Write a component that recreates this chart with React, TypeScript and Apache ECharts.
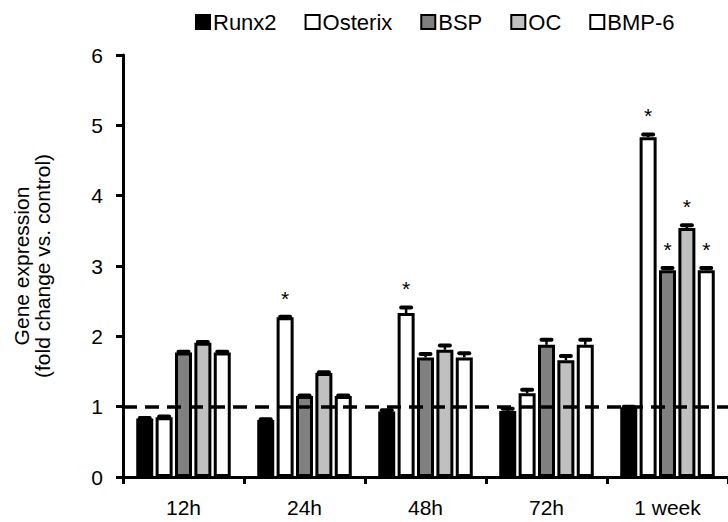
import React, { useEffect, useRef } from "react";
import * as echarts from "echarts";

const categories = ["12h", "24h", "48h", "72h", "1 week"];
const seriesNames = ["Runx2", "Osterix", "BSP", "OC", "BMP-6"];
const seriesColors = ["#000000", "#ffffff", "#808080", "#c0c0c0", "#ffffff"];

const runx2 = [0.83, 0.81, 0.93, 0.94, 0.99];
const osterix = [0.85, 2.27, 2.33, 1.19, 4.83];
const bsp = [1.77, 1.15, 1.70, 1.88, 2.94];
const oc = [1.91, 1.48, 1.81, 1.66, 3.54];
const bmp6 = [1.77, 1.15, 1.70, 1.88, 2.94];

const runx2Err = [0.01, 0.01, 0.02, 0.03, 0.01];
const osterixErr = [0.01, 0.01, 0.08, 0.05, 0.04];
const bspErr = [0.01, 0.01, 0.05, 0.07, 0.03];
const ocErr = [0.01, 0.01, 0.06, 0.06, 0.04];
const bmp6Err = [0.01, 0.01, 0.06, 0.07, 0.03];

const runx2Sig = [0, 0, 0, 0, 0];
const osterixSig = [0, 1, 1, 0, 1];
const bspSig = [0, 0, 0, 0, 1];
const ocSig = [0, 0, 0, 0, 1];
const bmp6Sig = [0, 0, 0, 0, 1];

const yTicks = [0, 1, 2, 3, 4, 5, 6];
const referenceLevel = 1;

const allValues = [runx2, osterix, bsp, oc, bmp6];
const allErrors = [runx2Err, osterixErr, bspErr, ocErr, bmp6Err];
const allSig = [runx2Sig, osterixSig, bspSig, ocSig, bmp6Sig];

const FONT = "'Liberation Sans', Arial, sans-serif";
const BAR_W = 17;
const BAR_GAP = 0.14;

export default function App() {
  const ref = useRef<HTMLDivElement>(null);

  useEffect(() => {
    if (!ref.current) return;
    const chart = echarts.init(ref.current, null, { renderer: "svg" });

    const barSeries: any[] = seriesNames.map((name, i) => ({
      name,
      type: "bar",
      data: allValues[i],
      barWidth: BAR_W,
      barGap: BAR_GAP * 100 + "%",
      barCategoryGap: "20%",
      itemStyle: {
        color: seriesColors[i],
        borderColor: "#000",
        borderWidth: 3,
      },
      z: 2,
      ...(i === 0
        ? {
            markLine: {
              silent: true,
              symbol: "none",
              z: 10,
              label: { show: false },
              lineStyle: { color: "#000", width: 3.5, type: [14, 8] },
              data: [{ yAxis: referenceLevel }],
            },
          }
        : {}),
    }));

    const step = BAR_W * (1 + BAR_GAP);
    const errSeries: any[] = seriesNames.map((name, i) => ({
      name: "err-" + name,
      type: "custom",
      z: 5,
      data: categories.map((_, c) => [c, allValues[i][c], allErrors[i][c], allSig[i][c]]),
      encode: { x: 0, y: 1 },
      renderItem: (params: any, api: any) => {
        const c = api.value(0);
        const v = api.value(1);
        const e = api.value(2);
        const s = api.value(3);
        const base = api.coord([c, v]);
        const top = api.coord([c, v + e]);
        const x = base[0] + (i - 2) * step;
        const children: any[] = [
          {
            type: "line",
            shape: { x1: x, y1: base[1], x2: x, y2: top[1] },
            style: { stroke: "#000", lineWidth: 2.5 },
          },
          {
            type: "line",
            shape: { x1: x - 5, y1: top[1], x2: x + 5, y2: top[1] },
            style: { stroke: "#000", lineWidth: 4, lineCap: "round" },
          },
        ];
        if (s) {
          children.push({
            type: "text",
            style: {
              text: "*",
              x: x,
              y: top[1] - 8,
              align: "center",
              verticalAlign: "bottom",
              font: "21px " + FONT,
              fill: "#000",
            },
          });
        }
        return { type: "group", children };
      },
    }));

    chart.setOption({
      animation: false,
      backgroundColor: "#fff",
      textStyle: { fontFamily: FONT, color: "#000" },
      legend: {
        data: seriesNames,
        left: 190,
        top: 6,
        itemWidth: 14,
        itemHeight: 14,
        itemGap: 28,
        icon: "rect",
        textStyle: { fontSize: 22, color: "#000", fontFamily: FONT, padding: [0, 0, 0, -2] },
      },
      grid: { left: 123, right: -8, top: 55, bottom: 45, containLabel: false },
      xAxis: {
        type: "category",
        data: categories,
        axisLine: { lineStyle: { color: "#000", width: 3 } },
        axisTick: { show: true, length: 7, lineStyle: { color: "#000", width: 3 } },
        axisLabel: { fontSize: 21, color: "#000", margin: 20, fontFamily: FONT },
      },
      yAxis: {
        type: "value",
        min: yTicks[0],
        max: yTicks[yTicks.length - 1],
        interval: 1,
        name: "Gene expression\n(fold change vs. control)",
        nameLocation: "middle",
        nameGap: 70,
        nameTextStyle: { fontSize: 21, color: "#000", lineHeight: 21, fontFamily: FONT },
        axisLine: { show: true, lineStyle: { color: "#000", width: 3 } },
        axisTick: { show: true, length: 7, lineStyle: { color: "#000", width: 3 } },
        axisLabel: { fontSize: 21, color: "#000", margin: 20, fontFamily: FONT },
        splitLine: { show: false },
      },
      series: [...barSeries, ...errSeries],
    });

    return () => chart.dispose();
  }, []);

  return <div ref={ref} style={{ width: 728, height: 522, position: "absolute", left: 0, top: 0 }} />;
}
